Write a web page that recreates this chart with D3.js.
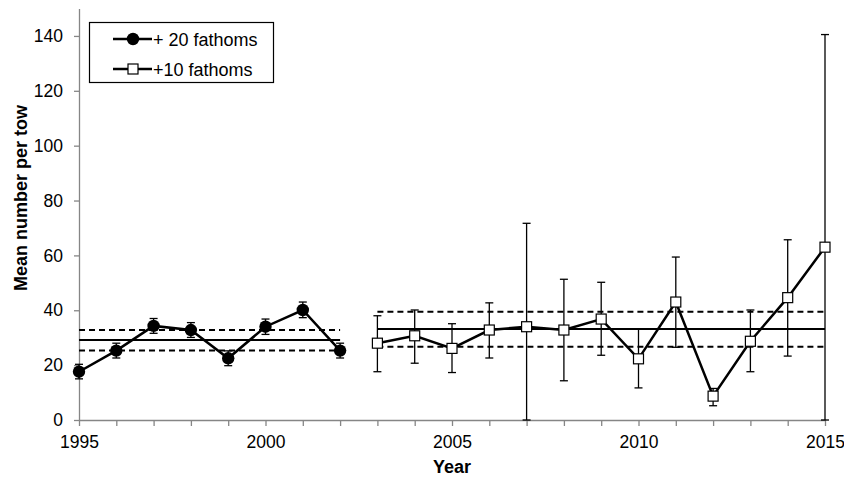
<!DOCTYPE html>
<html>
<head>
<meta charset="utf-8">
<script src="https://cdn.jsdelivr.net/npm/d3@7"></script>
<style>
  body { margin: 0; background: #fff; }
  svg text { font-family: "Liberation Sans", Arial, sans-serif; fill: #000; }
</style>
</head>
<body>
<svg id="chart" width="844" height="478"></svg>
<script>
// +20 fathoms series
const yearsA = [1995, 1996, 1997, 1998, 1999, 2000, 2001, 2002];
const meanA  = [17.6, 25.3, 34.3, 32.8, 22.5, 34.0, 40.1, 25.3];
const upA    = [20.3, 28.0, 37.0, 35.5, 25.2, 36.8, 43.0, 28.0];
const lowA   = [15.0, 22.6, 31.6, 30.1, 19.8, 31.2, 37.3, 22.6];
const avgA = 29.2, ciA = [25.3, 32.8];

// +10 fathoms series
const yearsB = [2003, 2004, 2005, 2006, 2007, 2008, 2009, 2010, 2011, 2012, 2013, 2014, 2015];
const meanB  = [28.0, 30.7, 26.1, 32.8, 34.0, 32.8, 36.8, 22.3, 43.0, 8.7, 28.7, 44.6, 63.0];
const upB    = [38.0, 40.1, 35.1, 42.7, 71.7, 51.3, 50.2, 33.1, 59.4, 11.5, 40.1, 65.7, 140.5];
const lowB   = [17.6, 20.7, 17.3, 22.6, 0, 14.3, 23.6, 11.7, 26.5, 5.2, 17.6, 23.3, 0];
const avgB = 33.2, ciB = [26.7, 39.5];

const yTicks = [0, 20, 40, 60, 80, 100, 120, 140];
const xLabels = [1995, 2000, 2005, 2010, 2015];
const legendNames = ["+ 20 fathoms", "+10 fathoms"];

const svg = d3.select('#chart');
const x = d3.scaleLinear().domain([1995, 2015]).range([79, 825]);
const y = d3.scaleLinear().domain([0, 150]).range([420, 8.5]);

// axes
const axisColor = '#868686';
const yAxis = svg.append('g').attr('transform', 'translate(79,0)')
    .call(d3.axisLeft(y).tickValues(yTicks).tickSize(5).tickSizeOuter(0).tickPadding(11));
const xAxis = svg.append('g').attr('transform', 'translate(0,420)')
    .call(d3.axisBottom(x).tickValues(d3.range(1995, 2016)).tickSize(6).tickSizeOuter(0).tickPadding(10)
        .tickFormat(d => xLabels.includes(d) ? d : ''));
[yAxis, xAxis].forEach(a => {
    a.select('.domain').attr('stroke', axisColor).attr('stroke-width', 1.3);
    a.selectAll('.tick line').attr('stroke', axisColor).attr('stroke-width', 1.3);
    a.selectAll('text').style('font-size', '17.5px').attr('fill', '#000');
});

svg.append('text').attr('x', 452).attr('y', 473).attr('text-anchor', 'middle')
    .style('font-size', '18px').style('font-weight', 'bold').text('Year');
svg.append('text').attr('transform', 'translate(27,198) rotate(-90)').attr('text-anchor', 'middle')
    .style('font-size', '18px').style('font-weight', 'bold').text('Mean number per tow');

// mean and interval lines
function refLines(x0, x1, avg, ci) {
    svg.append('line').attr('x1', x(x0)).attr('x2', x(x1)).attr('y1', y(avg)).attr('y2', y(avg))
        .attr('stroke', '#000').attr('stroke-width', 2);
    ci.forEach(v => {
        svg.append('line').attr('x1', x(x0)).attr('x2', x(x1)).attr('y1', y(v)).attr('y2', y(v))
            .attr('stroke', '#000').attr('stroke-width', 2).attr('stroke-dasharray', '6,4');
    });
}
refLines(1995, 2002, avgA, ciA);
refLines(2003, 2015, avgB, ciB);

// error bars
function errorBars(years, up, low) {
    const g = svg.append('g').attr('stroke', '#000').attr('stroke-width', 1.3);
    years.forEach((yr, i) => {
        g.append('line').attr('x1', x(yr)).attr('x2', x(yr)).attr('y1', y(up[i])).attr('y2', y(low[i]));
        g.append('line').attr('x1', x(yr) - 4).attr('x2', x(yr) + 4).attr('y1', y(up[i])).attr('y2', y(up[i]));
        g.append('line').attr('x1', x(yr) - 4).attr('x2', x(yr) + 4).attr('y1', y(low[i])).attr('y2', y(low[i]));
    });
}
errorBars(yearsA, upA, lowA);
errorBars(yearsB, upB, lowB);

// series lines
const line = d3.line().x(d => x(d[0])).y(d => y(d[1]));
svg.append('path').attr('d', line(yearsA.map((d, i) => [d, meanA[i]])))
    .attr('fill', 'none').attr('stroke', '#000').attr('stroke-width', 2.5);
svg.append('path').attr('d', line(yearsB.map((d, i) => [d, meanB[i]])))
    .attr('fill', 'none').attr('stroke', '#000').attr('stroke-width', 2.5);

// markers
svg.selectAll('.dotA').data(yearsA).enter().append('circle')
    .attr('cx', d => x(d)).attr('cy', (d, i) => y(meanA[i])).attr('r', 6.2).attr('fill', '#000');
svg.selectAll('.sqB').data(yearsB).enter().append('rect')
    .attr('x', d => x(d) - 5).attr('y', (d, i) => y(meanB[i]) - 5)
    .attr('width', 10).attr('height', 10)
    .attr('fill', '#fff').attr('stroke', '#000').attr('stroke-width', 1.2);

// legend
const lg = svg.append('g');
lg.append('rect').attr('x', 89.5).attr('y', 22.5).attr('width', 184).attr('height', 60)
    .attr('fill', '#fff').attr('stroke', '#000').attr('stroke-width', 1.2);
legendNames.forEach((name, i) => {
    const ly = 39 + i * 30;
    lg.append('line').attr('x1', 113).attr('x2', 152).attr('y1', ly).attr('y2', ly)
        .attr('stroke', '#000').attr('stroke-width', 2.5);
    if (i === 0) {
        lg.append('circle').attr('cx', 133).attr('cy', ly).attr('r', 6.2).attr('fill', '#000');
    } else {
        lg.append('rect').attr('x', 128).attr('y', ly - 5).attr('width', 10).attr('height', 10)
            .attr('fill', '#fff').attr('stroke', '#000').attr('stroke-width', 1.2);
    }
    lg.append('text').attr('x', 153).attr('y', ly + 6.5).style('font-size', '18px').text(name);
});
</script>
</body>
</html>
